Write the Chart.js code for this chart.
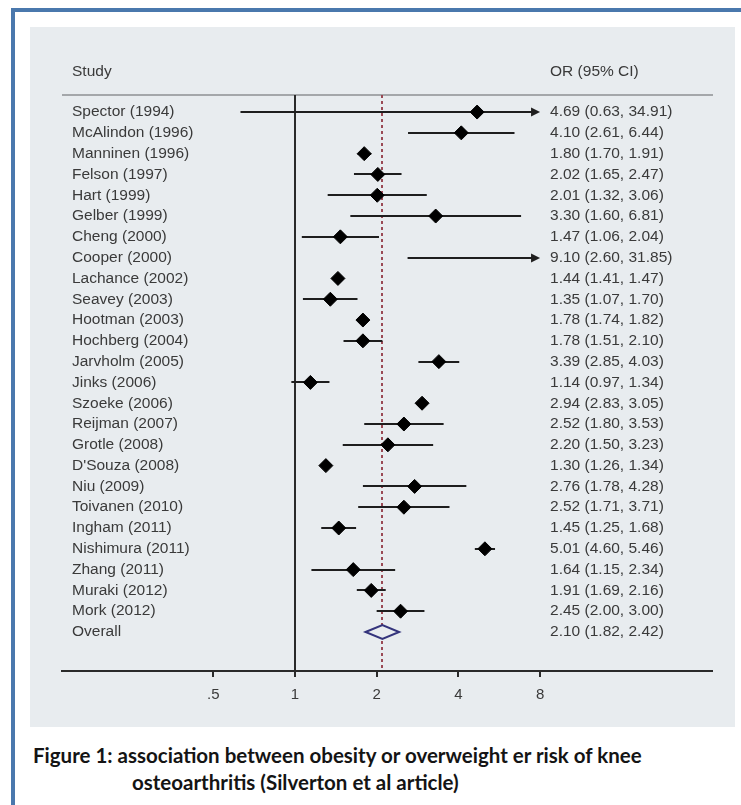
<!DOCTYPE html>
<html>
<head>
<meta charset="utf-8">
<script src="https://cdn.jsdelivr.net/npm/chart.js@4.4.1/dist/chart.umd.min.js"></script>
<style>
  body { margin: 0; background: #fff; width: 741px; height: 805px; overflow: hidden; }
  #frame { position: absolute; left: 11px; top: 8px; width: 740px; height: 800px;
           border-left: 4px solid #4a78ad; border-top: 4px solid #4a78ad; background: #fff; }
  #panel { position: absolute; left: 30px; top: 27px; width: 705px; height: 700px; background: #e8ecef; }
  #chart { position: absolute; left: 30px; top: 27px; }
  .cap { position: absolute; font-family: Lato, "Open Sans", sans-serif; font-weight: bold;
         font-size: 20.5px; line-height: 22px; color: #141414; white-space: nowrap; }
</style>
</head>
<body>
<div id="frame"></div>
<div id="panel"></div>
<canvas id="chart" width="705" height="700"></canvas>
<div class="cap" style="left:33px; top:744px;">Figure 1: association between obesity or overweight er risk of knee</div>
<div class="cap" style="left:132px; top:771px;">osteoarthritis (Silverton et al article)</div>

<script>
// data
const studies = ['Spector (1994)', 'McAlindon (1996)', 'Manninen (1996)', 'Felson (1997)', 'Hart (1999)',
    'Gelber (1999)', 'Cheng (2000)', 'Cooper (2000)', 'Lachance (2002)', 'Seavey (2003)', 'Hootman (2003)',
    'Hochberg (2004)', 'Jarvholm (2005)', 'Jinks (2006)', 'Szoeke (2006)', 'Reijman (2007)', 'Grotle (2008)',
    "D'Souza (2008)", 'Niu (2009)', 'Toivanen (2010)', 'Ingham (2011)', 'Nishimura (2011)', 'Zhang (2011)',
    'Muraki (2012)', 'Mork (2012)'];
const orValues = [4.69, 4.10, 1.80, 2.02, 2.01, 3.30, 1.47, 9.10, 1.44, 1.35, 1.78, 1.78, 3.39, 1.14, 2.94,
    2.52, 2.20, 1.30, 2.76, 2.52, 1.45, 5.01, 1.64, 1.91, 2.45];
const ciLower = [0.63, 2.61, 1.70, 1.65, 1.32, 1.60, 1.06, 2.60, 1.41, 1.07, 1.74, 1.51, 2.85, 0.97, 2.83,
    1.80, 1.50, 1.26, 1.78, 1.71, 1.25, 4.60, 1.15, 1.69, 2.00];
const ciUpper = [34.91, 6.44, 1.91, 2.47, 3.06, 6.81, 2.04, 31.85, 1.47, 1.70, 1.82, 2.10, 4.03, 1.34, 3.05,
    3.53, 3.23, 1.34, 4.28, 3.71, 1.68, 5.46, 2.34, 2.16, 3.00];
const overallLabel = 'Overall';
const overallOR = 2.10;
const overallLower = 1.82;
const overallUpper = 2.42;

const tickValues = [0.5, 1, 2, 4, 8];
const tickLabels = ['.5', '1', '2', '4', '8'];
const headerStudy = 'Study';
const headerOR = 'OR (95% CI)';

const cap = tickValues[tickValues.length - 1];
const textFont = '15.5px "Liberation Sans", Arial, sans-serif';
const textColor = '#3a3a3a';

function fmt(v) { return v.toFixed(2); }

// draws header, reference lines, CIs, overall diamond and text columns
const forestPlugin = {
    id: 'forest',
    beforeDatasetsDraw(chart) {
        let c = chart.ctx, a = chart.chartArea;
        let x = chart.scales.x, y = chart.scales.y;
        c.save();

        // header separator
        c.strokeStyle = '#a4a7aa';
        c.lineWidth = 2;
        c.beginPath();
        c.moveTo(a.left, a.top);
        c.lineTo(a.right + 1, a.top);
        c.stroke();

        // null line
        c.strokeStyle = '#2a2a2a';
        c.lineWidth = 2;
        let x1 = Math.round(x.getPixelForValue(1));
        c.beginPath();
        c.moveTo(x1, a.top);
        c.lineTo(x1, a.bottom);
        c.stroke();

        // overall effect line
        let xo = Math.round(x.getPixelForValue(overallOR));
        c.strokeStyle = '#9a4a55';
        c.setLineDash([3, 3]);
        c.beginPath();
        c.moveTo(xo, a.top);
        c.lineTo(xo, a.bottom);
        c.stroke();
        c.setLineDash([]);

        // confidence intervals
        c.strokeStyle = '#1e1e1e';
        c.fillStyle = '#1e1e1e';
        c.lineWidth = 2;
        studies.forEach((s, i) => {
            let py = Math.round(y.getPixelForValue(i));
            let lo = x.getPixelForValue(ciLower[i]);
            let clipped = ciUpper[i] > cap;
            let hi = x.getPixelForValue(clipped ? cap : ciUpper[i]);
            c.beginPath();
            c.moveTo(lo, py);
            c.lineTo(clipped ? hi - 6 : hi, py);
            c.stroke();
            if (clipped) {
                c.beginPath();
                c.moveTo(hi, py);
                c.lineTo(hi - 9, py - 4.5);
                c.lineTo(hi - 9, py + 4.5);
                c.closePath();
                c.fill();
            }
        });
        c.restore();
    },
    afterDatasetsDraw(chart) {
        let c = chart.ctx, a = chart.chartArea;
        let x = chart.scales.x, y = chart.scales.y;
        c.save();

        // overall diamond
        let oy = y.getPixelForValue(studies.length);
        c.beginPath();
        c.moveTo(x.getPixelForValue(overallLower), oy);
        c.lineTo(x.getPixelForValue(overallOR), oy - 7);
        c.lineTo(x.getPixelForValue(overallUpper), oy);
        c.lineTo(x.getPixelForValue(overallOR), oy + 7);
        c.closePath();
        c.fillStyle = '#e8ecef';
        c.fill();
        c.strokeStyle = '#34347c';
        c.lineWidth = 2;
        c.stroke();

        // text columns
        let labelX = a.left + 10;
        let orX = x.getPixelForValue(cap) + 10;
        c.font = textFont;
        c.fillStyle = textColor;
        c.textBaseline = 'middle';
        c.textAlign = 'left';
        c.fillText(headerStudy, labelX, a.top - 23);
        c.fillText(headerOR, orX, a.top - 23);
        studies.forEach((s, i) => {
            let py = y.getPixelForValue(i);
            c.fillText(s, labelX, py);
            c.fillText(fmt(orValues[i]) + ' (' + fmt(ciLower[i]) + ', ' + fmt(ciUpper[i]) + ')', orX, py);
        });
        c.fillText(overallLabel, labelX, oy);
        c.fillText(fmt(overallOR) + ' (' + fmt(overallLower) + ', ' + fmt(overallUpper) + ')', orX, oy);
        c.restore();
    }
};

let ctx = document.getElementById('chart').getContext('2d');
let chart = new Chart(ctx, {
    type: 'scatter',
    data: {
        datasets: [{
            data: studies.map((s, i) => ({ x: orValues[i], y: i })),
            pointStyle: 'rectRot',
            pointRadius: c => (c.raw && c.raw.x > cap) ? 0 : 7,
            backgroundColor: '#000',
            borderColor: '#000',
            borderWidth: 1
        }]
    },
    options: {
        responsive: false,
        animation: false,
        layout: { padding: { left: 32, right: 23, top: 68, bottom: 16 } },
        plugins: {
            legend: { display: false },
            tooltip: { enabled: false }
        },
        scales: {
            x: {
                type: 'logarithmic',
                min: 0.1386,
                max: 34.4,
                afterBuildTicks: s => { s.ticks = tickValues.map(v => ({ value: v })); },
                afterFit: s => { s.height = 40; },
                ticks: {
                    callback: (v, i) => tickLabels[i],
                    color: '#3a3a3a',
                    font: { family: '"Liberation Sans", Arial, sans-serif', size: 15 },
                    padding: 9,
                    maxRotation: 0,
                    autoSkip: false
                },
                grid: { drawOnChartArea: false, drawTicks: true, tickLength: 6, color: '#2a2a2a', lineWidth: 2 },
                border: { display: true, color: '#2a2a2a', width: 2 }
            },
            y: {
                type: 'linear',
                reverse: true,
                min: -0.82,
                max: 26.875,
                display: false
            }
        }
    },
    plugins: [forestPlugin]
});
</script>
</body>
</html>
